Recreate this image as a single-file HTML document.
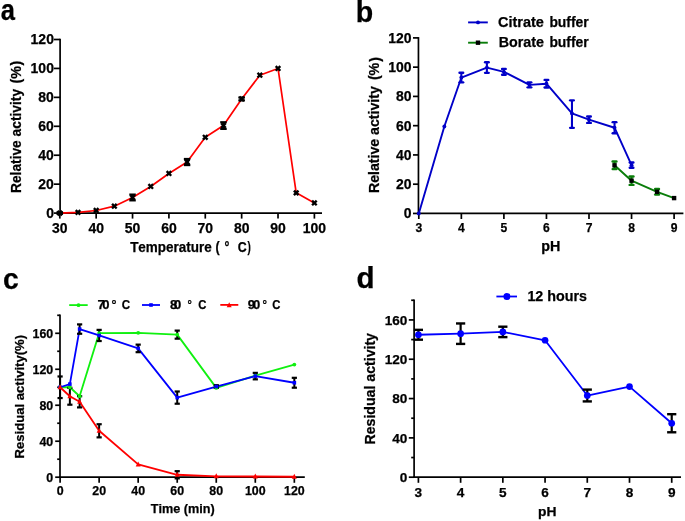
<!DOCTYPE html>
<html><head><meta charset="utf-8"><style>
html,body{margin:0;padding:0;background:#fff;}
svg{display:block;will-change:transform;}
text{font-family:"Liberation Sans", sans-serif;fill:#000;font-weight:bold;font-kerning:none;font-variant-ligatures:none;stroke:#000;stroke-width:0.25px;}
</style></head><body>
<svg width="685" height="521" viewBox="0 0 685 521">
<rect width="685" height="521" fill="#fff"/>
<text x="0.70" y="19.60" font-size="29.4" textLength="14.24" lengthAdjust="spacingAndGlyphs">a</text>
<line x1="60.10" y1="38.70" x2="60.10" y2="213.90" stroke="#000" stroke-width="1.7" stroke-linecap="butt"/>
<line x1="59.20" y1="213.10" x2="322.00" y2="213.10" stroke="#000" stroke-width="1.7" stroke-linecap="butt"/>
<line x1="53.90" y1="213.10" x2="60.10" y2="213.10" stroke="#000" stroke-width="1.7" stroke-linecap="butt"/>
<text x="53.90" y="218.05" font-size="14.1" text-anchor="end" textLength="7.76" lengthAdjust="spacingAndGlyphs">0</text>
<line x1="53.90" y1="184.17" x2="60.10" y2="184.17" stroke="#000" stroke-width="1.7" stroke-linecap="butt"/>
<text x="53.90" y="189.12" font-size="14.1" text-anchor="end" textLength="15.53" lengthAdjust="spacingAndGlyphs">20</text>
<line x1="53.90" y1="155.23" x2="60.10" y2="155.23" stroke="#000" stroke-width="1.7" stroke-linecap="butt"/>
<text x="53.90" y="160.18" font-size="14.1" text-anchor="end" textLength="15.53" lengthAdjust="spacingAndGlyphs">40</text>
<line x1="53.90" y1="126.30" x2="60.10" y2="126.30" stroke="#000" stroke-width="1.7" stroke-linecap="butt"/>
<text x="53.90" y="131.25" font-size="14.1" text-anchor="end" textLength="15.53" lengthAdjust="spacingAndGlyphs">60</text>
<line x1="53.90" y1="97.36" x2="60.10" y2="97.36" stroke="#000" stroke-width="1.7" stroke-linecap="butt"/>
<text x="53.90" y="102.31" font-size="14.1" text-anchor="end" textLength="15.53" lengthAdjust="spacingAndGlyphs">80</text>
<line x1="53.90" y1="68.43" x2="60.10" y2="68.43" stroke="#000" stroke-width="1.7" stroke-linecap="butt"/>
<text x="53.90" y="73.38" font-size="14.1" text-anchor="end" textLength="23.29" lengthAdjust="spacingAndGlyphs">100</text>
<line x1="53.90" y1="39.50" x2="60.10" y2="39.50" stroke="#000" stroke-width="1.7" stroke-linecap="butt"/>
<text x="53.90" y="44.45" font-size="14.1" text-anchor="end" textLength="23.29" lengthAdjust="spacingAndGlyphs">120</text>
<line x1="59.80" y1="213.10" x2="59.80" y2="218.60" stroke="#000" stroke-width="1.7" stroke-linecap="butt"/>
<text x="59.80" y="232.80" font-size="14.1" text-anchor="middle" textLength="15.53" lengthAdjust="spacingAndGlyphs">30</text>
<line x1="96.17" y1="213.10" x2="96.17" y2="218.60" stroke="#000" stroke-width="1.7" stroke-linecap="butt"/>
<text x="96.17" y="232.80" font-size="14.1" text-anchor="middle" textLength="15.53" lengthAdjust="spacingAndGlyphs">40</text>
<line x1="132.54" y1="213.10" x2="132.54" y2="218.60" stroke="#000" stroke-width="1.7" stroke-linecap="butt"/>
<text x="132.54" y="232.80" font-size="14.1" text-anchor="middle" textLength="15.53" lengthAdjust="spacingAndGlyphs">50</text>
<line x1="168.91" y1="213.10" x2="168.91" y2="218.60" stroke="#000" stroke-width="1.7" stroke-linecap="butt"/>
<text x="168.91" y="232.80" font-size="14.1" text-anchor="middle" textLength="15.53" lengthAdjust="spacingAndGlyphs">60</text>
<line x1="205.28" y1="213.10" x2="205.28" y2="218.60" stroke="#000" stroke-width="1.7" stroke-linecap="butt"/>
<text x="205.28" y="232.80" font-size="14.1" text-anchor="middle" textLength="15.53" lengthAdjust="spacingAndGlyphs">70</text>
<line x1="241.65" y1="213.10" x2="241.65" y2="218.60" stroke="#000" stroke-width="1.7" stroke-linecap="butt"/>
<text x="241.65" y="232.80" font-size="14.1" text-anchor="middle" textLength="15.53" lengthAdjust="spacingAndGlyphs">80</text>
<line x1="278.02" y1="213.10" x2="278.02" y2="218.60" stroke="#000" stroke-width="1.7" stroke-linecap="butt"/>
<text x="278.02" y="232.80" font-size="14.1" text-anchor="middle" textLength="15.53" lengthAdjust="spacingAndGlyphs">90</text>
<line x1="314.39" y1="213.10" x2="314.39" y2="218.60" stroke="#000" stroke-width="1.7" stroke-linecap="butt"/>
<text x="314.39" y="232.80" font-size="14.1" text-anchor="middle" textLength="23.29" lengthAdjust="spacingAndGlyphs">100</text>
<text x="130.15" y="251.80" font-size="14.4" textLength="81.61" lengthAdjust="spacingAndGlyphs">Temperature</text>
<text x="215.58" y="251.80" font-size="14.4" textLength="4.13" lengthAdjust="spacingAndGlyphs">(</text>
<text x="224.57" y="251.80" font-size="14.4" textLength="4.86" lengthAdjust="spacingAndGlyphs">&#176;</text>
<text x="237.69" y="251.80" font-size="14.4" textLength="8.95" lengthAdjust="spacingAndGlyphs">C</text>
<text x="247.59" y="251.80" font-size="14.4" textLength="3.30" lengthAdjust="spacingAndGlyphs">)</text>
<text x="21.20" y="193.02" font-size="14.3" textLength="104.10" lengthAdjust="spacingAndGlyphs" transform="rotate(-90 21.20 193.02)">Relative activity</text>
<text x="21.20" y="83.51" font-size="14.3" textLength="4.76" lengthAdjust="spacingAndGlyphs" transform="rotate(-90 21.20 83.51)">(</text>
<text x="21.20" y="78.72" font-size="14.3" textLength="12.71" lengthAdjust="spacingAndGlyphs" transform="rotate(-90 21.20 78.72)">%</text>
<text x="21.20" y="65.55" font-size="14.3" textLength="4.76" lengthAdjust="spacingAndGlyphs" transform="rotate(-90 21.20 65.55)">)</text>
<polyline points="59.80,213.10 77.98,212.38 96.17,210.50 114.35,206.16 132.54,197.48 150.72,186.48 168.91,173.46 187.09,162.03 205.28,137.29 223.46,125.57 241.65,98.96 259.83,75.23 278.02,68.43 296.20,192.85 314.39,202.97" fill="none" stroke="#ff0000" stroke-width="1.7" stroke-linejoin="round"/>
<line x1="59.80" y1="212.38" x2="59.80" y2="213.82" stroke="#000" stroke-width="2.2" stroke-linecap="butt"/>
<line x1="56.55" y1="212.38" x2="63.05" y2="212.38" stroke="#000" stroke-width="2.2" stroke-linecap="butt"/>
<line x1="56.55" y1="213.82" x2="63.05" y2="213.82" stroke="#000" stroke-width="2.2" stroke-linecap="butt"/>
<line x1="57.50" y1="210.80" x2="62.10" y2="215.40" stroke="#000" stroke-width="2.35" stroke-linecap="butt"/>
<line x1="57.50" y1="215.40" x2="62.10" y2="210.80" stroke="#000" stroke-width="2.35" stroke-linecap="butt"/>
<line x1="75.69" y1="210.08" x2="80.28" y2="214.68" stroke="#000" stroke-width="2.35" stroke-linecap="butt"/>
<line x1="75.69" y1="214.68" x2="80.28" y2="210.08" stroke="#000" stroke-width="2.35" stroke-linecap="butt"/>
<line x1="93.87" y1="208.20" x2="98.47" y2="212.80" stroke="#000" stroke-width="2.35" stroke-linecap="butt"/>
<line x1="93.87" y1="212.80" x2="98.47" y2="208.20" stroke="#000" stroke-width="2.35" stroke-linecap="butt"/>
<line x1="112.05" y1="203.86" x2="116.65" y2="208.46" stroke="#000" stroke-width="2.35" stroke-linecap="butt"/>
<line x1="112.05" y1="208.46" x2="116.65" y2="203.86" stroke="#000" stroke-width="2.35" stroke-linecap="butt"/>
<line x1="132.54" y1="194.58" x2="132.54" y2="200.37" stroke="#000" stroke-width="2.2" stroke-linecap="butt"/>
<line x1="129.29" y1="194.58" x2="135.79" y2="194.58" stroke="#000" stroke-width="2.2" stroke-linecap="butt"/>
<line x1="129.29" y1="200.37" x2="135.79" y2="200.37" stroke="#000" stroke-width="2.2" stroke-linecap="butt"/>
<line x1="130.24" y1="195.18" x2="134.84" y2="199.78" stroke="#000" stroke-width="2.35" stroke-linecap="butt"/>
<line x1="130.24" y1="199.78" x2="134.84" y2="195.18" stroke="#000" stroke-width="2.35" stroke-linecap="butt"/>
<line x1="148.42" y1="184.18" x2="153.03" y2="188.78" stroke="#000" stroke-width="2.35" stroke-linecap="butt"/>
<line x1="148.42" y1="188.78" x2="153.03" y2="184.18" stroke="#000" stroke-width="2.35" stroke-linecap="butt"/>
<line x1="166.61" y1="171.16" x2="171.21" y2="175.76" stroke="#000" stroke-width="2.35" stroke-linecap="butt"/>
<line x1="166.61" y1="175.76" x2="171.21" y2="171.16" stroke="#000" stroke-width="2.35" stroke-linecap="butt"/>
<line x1="187.09" y1="158.99" x2="187.09" y2="165.07" stroke="#000" stroke-width="2.2" stroke-linecap="butt"/>
<line x1="183.84" y1="158.99" x2="190.34" y2="158.99" stroke="#000" stroke-width="2.2" stroke-linecap="butt"/>
<line x1="183.84" y1="165.07" x2="190.34" y2="165.07" stroke="#000" stroke-width="2.2" stroke-linecap="butt"/>
<line x1="184.79" y1="159.73" x2="189.40" y2="164.33" stroke="#000" stroke-width="2.35" stroke-linecap="butt"/>
<line x1="184.79" y1="164.33" x2="189.40" y2="159.73" stroke="#000" stroke-width="2.35" stroke-linecap="butt"/>
<line x1="202.98" y1="134.99" x2="207.58" y2="139.59" stroke="#000" stroke-width="2.35" stroke-linecap="butt"/>
<line x1="202.98" y1="139.59" x2="207.58" y2="134.99" stroke="#000" stroke-width="2.35" stroke-linecap="butt"/>
<line x1="223.46" y1="122.25" x2="223.46" y2="128.90" stroke="#000" stroke-width="2.2" stroke-linecap="butt"/>
<line x1="220.21" y1="122.25" x2="226.71" y2="122.25" stroke="#000" stroke-width="2.2" stroke-linecap="butt"/>
<line x1="220.21" y1="128.90" x2="226.71" y2="128.90" stroke="#000" stroke-width="2.2" stroke-linecap="butt"/>
<line x1="221.16" y1="123.27" x2="225.76" y2="127.87" stroke="#000" stroke-width="2.35" stroke-linecap="butt"/>
<line x1="221.16" y1="127.87" x2="225.76" y2="123.27" stroke="#000" stroke-width="2.35" stroke-linecap="butt"/>
<line x1="241.65" y1="97.51" x2="241.65" y2="100.40" stroke="#000" stroke-width="2.2" stroke-linecap="butt"/>
<line x1="238.40" y1="97.51" x2="244.90" y2="97.51" stroke="#000" stroke-width="2.2" stroke-linecap="butt"/>
<line x1="238.40" y1="100.40" x2="244.90" y2="100.40" stroke="#000" stroke-width="2.2" stroke-linecap="butt"/>
<line x1="239.35" y1="96.66" x2="243.95" y2="101.26" stroke="#000" stroke-width="2.35" stroke-linecap="butt"/>
<line x1="239.35" y1="101.26" x2="243.95" y2="96.66" stroke="#000" stroke-width="2.35" stroke-linecap="butt"/>
<line x1="257.53" y1="72.93" x2="262.13" y2="77.53" stroke="#000" stroke-width="2.35" stroke-linecap="butt"/>
<line x1="257.53" y1="77.53" x2="262.13" y2="72.93" stroke="#000" stroke-width="2.35" stroke-linecap="butt"/>
<line x1="275.72" y1="66.13" x2="280.32" y2="70.73" stroke="#000" stroke-width="2.35" stroke-linecap="butt"/>
<line x1="275.72" y1="70.73" x2="280.32" y2="66.13" stroke="#000" stroke-width="2.35" stroke-linecap="butt"/>
<line x1="293.90" y1="190.55" x2="298.50" y2="195.15" stroke="#000" stroke-width="2.35" stroke-linecap="butt"/>
<line x1="293.90" y1="195.15" x2="298.50" y2="190.55" stroke="#000" stroke-width="2.35" stroke-linecap="butt"/>
<line x1="312.09" y1="200.67" x2="316.69" y2="205.27" stroke="#000" stroke-width="2.35" stroke-linecap="butt"/>
<line x1="312.09" y1="205.27" x2="316.69" y2="200.67" stroke="#000" stroke-width="2.35" stroke-linecap="butt"/>
<text x="355.72" y="21.80" font-size="29.4" textLength="17.46" lengthAdjust="spacingAndGlyphs">b</text>
<line x1="418.45" y1="37.10" x2="418.45" y2="214.20" stroke="#000" stroke-width="1.7" stroke-linecap="butt"/>
<line x1="417.60" y1="213.45" x2="683.40" y2="213.45" stroke="#000" stroke-width="1.7" stroke-linecap="butt"/>
<line x1="413.00" y1="213.45" x2="418.45" y2="213.45" stroke="#000" stroke-width="1.7" stroke-linecap="butt"/>
<text x="411.60" y="218.40" font-size="14.1" text-anchor="end" textLength="7.76" lengthAdjust="spacingAndGlyphs">0</text>
<line x1="413.00" y1="184.19" x2="418.45" y2="184.19" stroke="#000" stroke-width="1.7" stroke-linecap="butt"/>
<text x="411.60" y="189.14" font-size="14.1" text-anchor="end" textLength="15.53" lengthAdjust="spacingAndGlyphs">20</text>
<line x1="413.00" y1="154.93" x2="418.45" y2="154.93" stroke="#000" stroke-width="1.7" stroke-linecap="butt"/>
<text x="411.60" y="159.88" font-size="14.1" text-anchor="end" textLength="15.53" lengthAdjust="spacingAndGlyphs">40</text>
<line x1="413.00" y1="125.67" x2="418.45" y2="125.67" stroke="#000" stroke-width="1.7" stroke-linecap="butt"/>
<text x="411.60" y="130.62" font-size="14.1" text-anchor="end" textLength="15.53" lengthAdjust="spacingAndGlyphs">60</text>
<line x1="413.00" y1="96.41" x2="418.45" y2="96.41" stroke="#000" stroke-width="1.7" stroke-linecap="butt"/>
<text x="411.60" y="101.36" font-size="14.1" text-anchor="end" textLength="15.53" lengthAdjust="spacingAndGlyphs">80</text>
<line x1="413.00" y1="67.15" x2="418.45" y2="67.15" stroke="#000" stroke-width="1.7" stroke-linecap="butt"/>
<text x="411.60" y="72.10" font-size="14.1" text-anchor="end" textLength="23.29" lengthAdjust="spacingAndGlyphs">100</text>
<line x1="413.00" y1="37.89" x2="418.45" y2="37.89" stroke="#000" stroke-width="1.7" stroke-linecap="butt"/>
<text x="411.60" y="42.84" font-size="14.1" text-anchor="end" textLength="23.29" lengthAdjust="spacingAndGlyphs">120</text>
<line x1="418.80" y1="213.45" x2="418.80" y2="219.00" stroke="#000" stroke-width="1.7" stroke-linecap="butt"/>
<text x="418.80" y="232.30" font-size="13.2" text-anchor="middle" textLength="6.75" lengthAdjust="spacingAndGlyphs">3</text>
<line x1="461.35" y1="213.45" x2="461.35" y2="219.00" stroke="#000" stroke-width="1.7" stroke-linecap="butt"/>
<text x="461.35" y="232.30" font-size="13.2" text-anchor="middle" textLength="6.75" lengthAdjust="spacingAndGlyphs">4</text>
<line x1="503.90" y1="213.45" x2="503.90" y2="219.00" stroke="#000" stroke-width="1.7" stroke-linecap="butt"/>
<text x="503.90" y="232.30" font-size="13.2" text-anchor="middle" textLength="6.75" lengthAdjust="spacingAndGlyphs">5</text>
<line x1="546.45" y1="213.45" x2="546.45" y2="219.00" stroke="#000" stroke-width="1.7" stroke-linecap="butt"/>
<text x="546.45" y="232.30" font-size="13.2" text-anchor="middle" textLength="6.75" lengthAdjust="spacingAndGlyphs">6</text>
<line x1="589.00" y1="213.45" x2="589.00" y2="219.00" stroke="#000" stroke-width="1.7" stroke-linecap="butt"/>
<text x="589.00" y="232.30" font-size="13.2" text-anchor="middle" textLength="6.75" lengthAdjust="spacingAndGlyphs">7</text>
<line x1="631.55" y1="213.45" x2="631.55" y2="219.00" stroke="#000" stroke-width="1.7" stroke-linecap="butt"/>
<text x="631.55" y="232.30" font-size="13.2" text-anchor="middle" textLength="6.75" lengthAdjust="spacingAndGlyphs">8</text>
<line x1="674.10" y1="213.45" x2="674.10" y2="219.00" stroke="#000" stroke-width="1.7" stroke-linecap="butt"/>
<text x="674.10" y="232.30" font-size="13.2" text-anchor="middle" textLength="6.75" lengthAdjust="spacingAndGlyphs">9</text>
<text x="541.35" y="251.30" font-size="14" textLength="19.11" lengthAdjust="spacingAndGlyphs">pH</text>
<text x="379.50" y="193.05" font-size="14.3" textLength="106.92" lengthAdjust="spacingAndGlyphs" transform="rotate(-90 379.50 193.05)">Relative activity</text>
<text x="379.50" y="79.91" font-size="14.3" textLength="4.76" lengthAdjust="spacingAndGlyphs" transform="rotate(-90 379.50 79.91)">(</text>
<text x="379.50" y="75.47" font-size="14.3" textLength="12.71" lengthAdjust="spacingAndGlyphs" transform="rotate(-90 379.50 75.47)">%</text>
<text x="379.50" y="61.75" font-size="14.3" textLength="4.76" lengthAdjust="spacingAndGlyphs" transform="rotate(-90 379.50 61.75)">)</text>
<polyline points="418.80,213.45 444.33,126.55 461.35,77.54 486.88,67.59 503.90,71.83 529.43,84.85 546.45,83.68 571.98,113.38 589.00,119.67 614.53,127.72 631.55,165.17" fill="none" stroke="#0000c8" stroke-width="1.9" stroke-linejoin="round"/>
<circle cx="418.80" cy="213.45" r="1.95" fill="#0000c8"/>
<circle cx="444.33" cy="126.55" r="1.95" fill="#0000c8"/>
<line x1="461.35" y1="72.71" x2="461.35" y2="82.37" stroke="#0000c8" stroke-width="2.1" stroke-linecap="butt"/>
<line x1="459.55" y1="72.71" x2="463.15" y2="72.71" stroke="#0000c8" stroke-width="2.4" stroke-linecap="round"/>
<line x1="459.55" y1="82.37" x2="463.15" y2="82.37" stroke="#0000c8" stroke-width="2.4" stroke-linecap="round"/>
<circle cx="461.35" cy="77.54" r="1.95" fill="#0000c8"/>
<line x1="486.88" y1="62.32" x2="486.88" y2="72.86" stroke="#0000c8" stroke-width="2.1" stroke-linecap="butt"/>
<line x1="485.08" y1="62.32" x2="488.68" y2="62.32" stroke="#0000c8" stroke-width="2.4" stroke-linecap="round"/>
<line x1="485.08" y1="72.86" x2="488.68" y2="72.86" stroke="#0000c8" stroke-width="2.4" stroke-linecap="round"/>
<circle cx="486.88" cy="67.59" r="1.95" fill="#0000c8"/>
<line x1="503.90" y1="68.91" x2="503.90" y2="74.76" stroke="#0000c8" stroke-width="2.1" stroke-linecap="butt"/>
<line x1="502.10" y1="68.91" x2="505.70" y2="68.91" stroke="#0000c8" stroke-width="2.4" stroke-linecap="round"/>
<line x1="502.10" y1="74.76" x2="505.70" y2="74.76" stroke="#0000c8" stroke-width="2.4" stroke-linecap="round"/>
<circle cx="503.90" cy="71.83" r="1.95" fill="#0000c8"/>
<line x1="529.43" y1="82.37" x2="529.43" y2="87.34" stroke="#0000c8" stroke-width="2.1" stroke-linecap="butt"/>
<line x1="527.63" y1="82.37" x2="531.23" y2="82.37" stroke="#0000c8" stroke-width="2.4" stroke-linecap="round"/>
<line x1="527.63" y1="87.34" x2="531.23" y2="87.34" stroke="#0000c8" stroke-width="2.4" stroke-linecap="round"/>
<circle cx="529.43" cy="84.85" r="1.95" fill="#0000c8"/>
<line x1="546.45" y1="79.88" x2="546.45" y2="87.49" stroke="#0000c8" stroke-width="2.1" stroke-linecap="butt"/>
<line x1="544.65" y1="79.88" x2="548.25" y2="79.88" stroke="#0000c8" stroke-width="2.4" stroke-linecap="round"/>
<line x1="544.65" y1="87.49" x2="548.25" y2="87.49" stroke="#0000c8" stroke-width="2.4" stroke-linecap="round"/>
<circle cx="546.45" cy="83.68" r="1.95" fill="#0000c8"/>
<line x1="571.98" y1="100.36" x2="571.98" y2="127.86" stroke="#0000c8" stroke-width="2.1" stroke-linecap="butt"/>
<line x1="570.18" y1="100.36" x2="573.78" y2="100.36" stroke="#0000c8" stroke-width="2.4" stroke-linecap="round"/>
<line x1="570.18" y1="127.86" x2="573.78" y2="127.86" stroke="#0000c8" stroke-width="2.4" stroke-linecap="round"/>
<circle cx="571.98" cy="113.38" r="1.95" fill="#0000c8"/>
<line x1="589.00" y1="116.45" x2="589.00" y2="122.89" stroke="#0000c8" stroke-width="2.1" stroke-linecap="butt"/>
<line x1="587.20" y1="116.45" x2="590.80" y2="116.45" stroke="#0000c8" stroke-width="2.4" stroke-linecap="round"/>
<line x1="587.20" y1="122.89" x2="590.80" y2="122.89" stroke="#0000c8" stroke-width="2.4" stroke-linecap="round"/>
<circle cx="589.00" cy="119.67" r="1.95" fill="#0000c8"/>
<line x1="614.53" y1="122.16" x2="614.53" y2="133.28" stroke="#0000c8" stroke-width="2.1" stroke-linecap="butt"/>
<line x1="612.73" y1="122.16" x2="616.33" y2="122.16" stroke="#0000c8" stroke-width="2.4" stroke-linecap="round"/>
<line x1="612.73" y1="133.28" x2="616.33" y2="133.28" stroke="#0000c8" stroke-width="2.4" stroke-linecap="round"/>
<circle cx="614.53" cy="127.72" r="1.95" fill="#0000c8"/>
<line x1="631.55" y1="162.54" x2="631.55" y2="167.80" stroke="#0000c8" stroke-width="2.1" stroke-linecap="butt"/>
<line x1="629.75" y1="162.54" x2="633.35" y2="162.54" stroke="#0000c8" stroke-width="2.4" stroke-linecap="round"/>
<line x1="629.75" y1="167.80" x2="633.35" y2="167.80" stroke="#0000c8" stroke-width="2.4" stroke-linecap="round"/>
<circle cx="631.55" cy="165.17" r="1.95" fill="#0000c8"/>
<polyline points="614.53,165.32 631.55,180.68 657.08,191.80 674.10,198.09" fill="none" stroke="#0a7d0a" stroke-width="1.9" stroke-linejoin="round"/>
<line x1="614.53" y1="161.51" x2="614.53" y2="169.12" stroke="#0a7d0a" stroke-width="2.1" stroke-linecap="butt"/>
<line x1="612.63" y1="161.51" x2="616.43" y2="161.51" stroke="#0a7d0a" stroke-width="2.4" stroke-linecap="round"/>
<line x1="612.63" y1="169.12" x2="616.43" y2="169.12" stroke="#0a7d0a" stroke-width="2.4" stroke-linecap="round"/>
<rect x="612.33" y="163.12" width="4.4" height="4.4" fill="#000"/>
<line x1="631.55" y1="176.44" x2="631.55" y2="184.92" stroke="#0a7d0a" stroke-width="2.1" stroke-linecap="butt"/>
<line x1="629.65" y1="176.44" x2="633.45" y2="176.44" stroke="#0a7d0a" stroke-width="2.4" stroke-linecap="round"/>
<line x1="629.65" y1="184.92" x2="633.45" y2="184.92" stroke="#0a7d0a" stroke-width="2.4" stroke-linecap="round"/>
<rect x="629.35" y="178.48" width="4.4" height="4.4" fill="#000"/>
<line x1="657.08" y1="189.02" x2="657.08" y2="194.58" stroke="#0a7d0a" stroke-width="2.1" stroke-linecap="butt"/>
<line x1="655.18" y1="189.02" x2="658.98" y2="189.02" stroke="#0a7d0a" stroke-width="2.4" stroke-linecap="round"/>
<line x1="655.18" y1="194.58" x2="658.98" y2="194.58" stroke="#0a7d0a" stroke-width="2.4" stroke-linecap="round"/>
<rect x="654.88" y="189.60" width="4.4" height="4.4" fill="#000"/>
<rect x="671.90" y="195.89" width="4.4" height="4.4" fill="#000"/>
<line x1="468.10" y1="22.40" x2="487.80" y2="22.40" stroke="#0000c8" stroke-width="1.9" stroke-linecap="butt"/>
<circle cx="478.00" cy="22.40" r="1.95" fill="#0000c8"/>
<text x="498.01" y="27.00" font-size="14.3" textLength="45.89" lengthAdjust="spacingAndGlyphs">Citrate</text>
<text x="549.38" y="27.00" font-size="14.3" textLength="39.33" lengthAdjust="spacingAndGlyphs">buffer</text>
<line x1="468.10" y1="42.70" x2="487.80" y2="42.70" stroke="#0a7d0a" stroke-width="1.9" stroke-linecap="butt"/>
<rect x="475.80" y="40.50" width="4.4" height="4.4" fill="#000"/>
<text x="498.64" y="47.20" font-size="14.3" textLength="45.24" lengthAdjust="spacingAndGlyphs">Borate</text>
<text x="549.38" y="47.20" font-size="14.3" textLength="39.33" lengthAdjust="spacingAndGlyphs">buffer</text>
<text x="3.09" y="289.20" font-size="29.4" textLength="15.73" lengthAdjust="spacingAndGlyphs">c</text>
<line x1="60.00" y1="314.50" x2="60.00" y2="478.00" stroke="#000" stroke-width="1.7" stroke-linecap="butt"/>
<line x1="59.20" y1="477.20" x2="304.80" y2="477.20" stroke="#000" stroke-width="1.7" stroke-linecap="butt"/>
<line x1="55.20" y1="477.20" x2="60.00" y2="477.20" stroke="#000" stroke-width="1.7" stroke-linecap="butt"/>
<text x="53.20" y="481.55" font-size="12.4" text-anchor="end">0</text>
<line x1="57.20" y1="459.21" x2="60.00" y2="459.21" stroke="#000" stroke-width="1.7" stroke-linecap="butt"/>
<line x1="55.20" y1="441.22" x2="60.00" y2="441.22" stroke="#000" stroke-width="1.7" stroke-linecap="butt"/>
<text x="53.20" y="445.57" font-size="12.4" text-anchor="end">40</text>
<line x1="57.20" y1="423.24" x2="60.00" y2="423.24" stroke="#000" stroke-width="1.7" stroke-linecap="butt"/>
<line x1="55.20" y1="405.25" x2="60.00" y2="405.25" stroke="#000" stroke-width="1.7" stroke-linecap="butt"/>
<text x="53.20" y="409.60" font-size="12.4" text-anchor="end">80</text>
<line x1="57.20" y1="387.26" x2="60.00" y2="387.26" stroke="#000" stroke-width="1.7" stroke-linecap="butt"/>
<line x1="55.20" y1="369.27" x2="60.00" y2="369.27" stroke="#000" stroke-width="1.7" stroke-linecap="butt"/>
<text x="53.20" y="373.62" font-size="12.4" text-anchor="end">120</text>
<line x1="57.20" y1="351.28" x2="60.00" y2="351.28" stroke="#000" stroke-width="1.7" stroke-linecap="butt"/>
<line x1="55.20" y1="333.30" x2="60.00" y2="333.30" stroke="#000" stroke-width="1.7" stroke-linecap="butt"/>
<text x="53.20" y="337.65" font-size="12.4" text-anchor="end">160</text>
<line x1="57.20" y1="315.31" x2="60.00" y2="315.31" stroke="#000" stroke-width="1.7" stroke-linecap="butt"/>
<line x1="60.10" y1="477.20" x2="60.10" y2="482.80" stroke="#000" stroke-width="1.7" stroke-linecap="butt"/>
<text x="60.10" y="495.20" font-size="12.4" text-anchor="middle">0</text>
<line x1="99.14" y1="477.20" x2="99.14" y2="482.80" stroke="#000" stroke-width="1.7" stroke-linecap="butt"/>
<text x="99.14" y="495.20" font-size="12.4" text-anchor="middle">20</text>
<line x1="138.18" y1="477.20" x2="138.18" y2="482.80" stroke="#000" stroke-width="1.7" stroke-linecap="butt"/>
<text x="138.18" y="495.20" font-size="12.4" text-anchor="middle">40</text>
<line x1="177.22" y1="477.20" x2="177.22" y2="482.80" stroke="#000" stroke-width="1.7" stroke-linecap="butt"/>
<text x="177.22" y="495.20" font-size="12.4" text-anchor="middle">60</text>
<line x1="216.26" y1="477.20" x2="216.26" y2="482.80" stroke="#000" stroke-width="1.7" stroke-linecap="butt"/>
<text x="216.26" y="495.20" font-size="12.4" text-anchor="middle">80</text>
<line x1="255.30" y1="477.20" x2="255.30" y2="482.80" stroke="#000" stroke-width="1.7" stroke-linecap="butt"/>
<text x="255.30" y="495.20" font-size="12.4" text-anchor="middle">100</text>
<line x1="294.34" y1="477.20" x2="294.34" y2="482.80" stroke="#000" stroke-width="1.7" stroke-linecap="butt"/>
<text x="294.34" y="495.20" font-size="12.4" text-anchor="middle">120</text>
<text x="150.66" y="512.80" font-size="12.8" textLength="63.97" lengthAdjust="spacingAndGlyphs">Time (min)</text>
<text x="23.60" y="458.37" font-size="13.2" textLength="123.42" lengthAdjust="spacingAndGlyphs" transform="rotate(-90 23.60 458.37)">Residual activity(%)</text>
<polyline points="60.10,387.26 69.86,387.26 79.62,396.25 99.14,333.12 138.18,332.85 177.22,334.65 216.26,387.89 255.30,375.57 294.34,364.60" fill="none" stroke="#10f010" stroke-width="1.8" stroke-linejoin="round"/>
<polyline points="60.10,387.26 69.86,384.11 79.62,329.07 99.14,335.45 138.18,348.41 177.22,397.60 216.26,386.54 255.30,376.11 294.34,382.76" fill="none" stroke="#0000ff" stroke-width="1.8" stroke-linejoin="round"/>
<polyline points="60.10,387.26 69.86,396.25 79.62,401.83 99.14,430.79 138.18,464.43 177.22,474.77 216.26,476.30 255.30,476.48 294.34,476.75" fill="none" stroke="#ff0000" stroke-width="1.8" stroke-linejoin="round"/>
<line x1="177.22" y1="330.60" x2="177.22" y2="338.69" stroke="#000" stroke-width="2.0" stroke-linecap="butt"/>
<line x1="174.62" y1="330.60" x2="179.82" y2="330.60" stroke="#000" stroke-width="2.2" stroke-linecap="butt"/>
<line x1="174.62" y1="338.69" x2="179.82" y2="338.69" stroke="#000" stroke-width="2.2" stroke-linecap="butt"/>
<line x1="79.62" y1="324.39" x2="79.62" y2="333.75" stroke="#000" stroke-width="2.0" stroke-linecap="butt"/>
<line x1="77.02" y1="324.39" x2="82.22" y2="324.39" stroke="#000" stroke-width="2.2" stroke-linecap="butt"/>
<line x1="77.02" y1="333.75" x2="82.22" y2="333.75" stroke="#000" stroke-width="2.2" stroke-linecap="butt"/>
<line x1="99.14" y1="329.88" x2="99.14" y2="341.03" stroke="#000" stroke-width="2.0" stroke-linecap="butt"/>
<line x1="96.54" y1="329.88" x2="101.74" y2="329.88" stroke="#000" stroke-width="2.2" stroke-linecap="butt"/>
<line x1="96.54" y1="341.03" x2="101.74" y2="341.03" stroke="#000" stroke-width="2.2" stroke-linecap="butt"/>
<line x1="138.18" y1="344.63" x2="138.18" y2="352.18" stroke="#000" stroke-width="2.0" stroke-linecap="butt"/>
<line x1="135.58" y1="344.63" x2="140.78" y2="344.63" stroke="#000" stroke-width="2.2" stroke-linecap="butt"/>
<line x1="135.58" y1="352.18" x2="140.78" y2="352.18" stroke="#000" stroke-width="2.2" stroke-linecap="butt"/>
<line x1="177.22" y1="391.49" x2="177.22" y2="403.72" stroke="#000" stroke-width="2.0" stroke-linecap="butt"/>
<line x1="174.62" y1="391.49" x2="179.82" y2="391.49" stroke="#000" stroke-width="2.2" stroke-linecap="butt"/>
<line x1="174.62" y1="403.72" x2="179.82" y2="403.72" stroke="#000" stroke-width="2.2" stroke-linecap="butt"/>
<line x1="216.26" y1="385.19" x2="216.26" y2="387.89" stroke="#000" stroke-width="2.0" stroke-linecap="butt"/>
<line x1="213.66" y1="385.19" x2="218.86" y2="385.19" stroke="#000" stroke-width="2.2" stroke-linecap="butt"/>
<line x1="213.66" y1="387.89" x2="218.86" y2="387.89" stroke="#000" stroke-width="2.2" stroke-linecap="butt"/>
<line x1="255.30" y1="372.87" x2="255.30" y2="379.35" stroke="#000" stroke-width="2.0" stroke-linecap="butt"/>
<line x1="252.70" y1="372.87" x2="257.90" y2="372.87" stroke="#000" stroke-width="2.2" stroke-linecap="butt"/>
<line x1="252.70" y1="379.35" x2="257.90" y2="379.35" stroke="#000" stroke-width="2.2" stroke-linecap="butt"/>
<line x1="294.34" y1="377.82" x2="294.34" y2="387.71" stroke="#000" stroke-width="2.0" stroke-linecap="butt"/>
<line x1="291.74" y1="377.82" x2="296.94" y2="377.82" stroke="#000" stroke-width="2.2" stroke-linecap="butt"/>
<line x1="291.74" y1="387.71" x2="296.94" y2="387.71" stroke="#000" stroke-width="2.2" stroke-linecap="butt"/>
<line x1="60.10" y1="376.47" x2="60.10" y2="398.05" stroke="#000" stroke-width="2.0" stroke-linecap="butt"/>
<line x1="57.50" y1="376.47" x2="62.70" y2="376.47" stroke="#000" stroke-width="2.2" stroke-linecap="butt"/>
<line x1="57.50" y1="398.05" x2="62.70" y2="398.05" stroke="#000" stroke-width="2.2" stroke-linecap="butt"/>
<line x1="69.86" y1="387.80" x2="69.86" y2="404.71" stroke="#000" stroke-width="2.0" stroke-linecap="butt"/>
<line x1="67.26" y1="387.80" x2="72.46" y2="387.80" stroke="#000" stroke-width="2.2" stroke-linecap="butt"/>
<line x1="67.26" y1="404.71" x2="72.46" y2="404.71" stroke="#000" stroke-width="2.2" stroke-linecap="butt"/>
<line x1="79.62" y1="396.25" x2="79.62" y2="407.41" stroke="#000" stroke-width="2.0" stroke-linecap="butt"/>
<line x1="77.02" y1="396.25" x2="82.22" y2="396.25" stroke="#000" stroke-width="2.2" stroke-linecap="butt"/>
<line x1="77.02" y1="407.41" x2="82.22" y2="407.41" stroke="#000" stroke-width="2.2" stroke-linecap="butt"/>
<line x1="99.14" y1="424.23" x2="99.14" y2="437.36" stroke="#000" stroke-width="2.0" stroke-linecap="butt"/>
<line x1="96.54" y1="424.23" x2="101.74" y2="424.23" stroke="#000" stroke-width="2.2" stroke-linecap="butt"/>
<line x1="96.54" y1="437.36" x2="101.74" y2="437.36" stroke="#000" stroke-width="2.2" stroke-linecap="butt"/>
<line x1="177.22" y1="471.17" x2="177.22" y2="478.37" stroke="#000" stroke-width="2.0" stroke-linecap="butt"/>
<line x1="174.62" y1="471.17" x2="179.82" y2="471.17" stroke="#000" stroke-width="2.2" stroke-linecap="butt"/>
<line x1="174.62" y1="478.37" x2="179.82" y2="478.37" stroke="#000" stroke-width="2.2" stroke-linecap="butt"/>
<circle cx="60.10" cy="387.26" r="1.9" fill="#10f010"/>
<circle cx="69.86" cy="387.26" r="1.9" fill="#10f010"/>
<circle cx="79.62" cy="396.25" r="1.9" fill="#10f010"/>
<circle cx="99.14" cy="333.12" r="1.9" fill="#10f010"/>
<circle cx="138.18" cy="332.85" r="1.9" fill="#10f010"/>
<circle cx="177.22" cy="334.65" r="1.9" fill="#10f010"/>
<circle cx="216.26" cy="387.89" r="1.9" fill="#10f010"/>
<circle cx="255.30" cy="375.57" r="1.9" fill="#10f010"/>
<circle cx="294.34" cy="364.60" r="1.9" fill="#10f010"/>
<rect x="58.30" y="385.46" width="3.6" height="3.6" fill="#0000ff"/>
<rect x="68.06" y="382.31" width="3.6" height="3.6" fill="#0000ff"/>
<rect x="77.82" y="327.27" width="3.6" height="3.6" fill="#0000ff"/>
<rect x="97.34" y="333.65" width="3.6" height="3.6" fill="#0000ff"/>
<rect x="136.38" y="346.61" width="3.6" height="3.6" fill="#0000ff"/>
<rect x="175.42" y="395.80" width="3.6" height="3.6" fill="#0000ff"/>
<rect x="214.46" y="384.74" width="3.6" height="3.6" fill="#0000ff"/>
<rect x="253.50" y="374.31" width="3.6" height="3.6" fill="#0000ff"/>
<rect x="292.54" y="380.96" width="3.6" height="3.6" fill="#0000ff"/>
<polygon points="60.10,384.26 57.60,389.26 62.60,389.26" fill="#ff0000"/>
<polygon points="69.86,393.25 67.36,398.25 72.36,398.25" fill="#ff0000"/>
<polygon points="79.62,398.83 77.12,403.83 82.12,403.83" fill="#ff0000"/>
<polygon points="99.14,427.79 96.64,432.79 101.64,432.79" fill="#ff0000"/>
<polygon points="138.18,461.43 135.68,466.43 140.68,466.43" fill="#ff0000"/>
<polygon points="177.22,471.77 174.72,476.77 179.72,476.77" fill="#ff0000"/>
<polygon points="216.26,473.30 213.76,478.30 218.76,478.30" fill="#ff0000"/>
<polygon points="255.30,473.48 252.80,478.48 257.80,478.48" fill="#ff0000"/>
<polygon points="294.34,473.75 291.84,478.75 296.84,478.75" fill="#ff0000"/>
<line x1="69.20" y1="305.10" x2="87.70" y2="305.10" stroke="#10f010" stroke-width="1.8" stroke-linecap="butt"/>
<circle cx="78.50" cy="305.20" r="1.9" fill="#10f010"/>
<text x="97.44" y="309.10" font-size="13" letter-spacing="-2.47">70</text>
<text x="111.45" y="309.10" font-size="13" textLength="4.98" lengthAdjust="spacingAndGlyphs">&#176;</text>
<text x="121.82" y="309.10" font-size="13" textLength="8.39" lengthAdjust="spacingAndGlyphs">C</text>
<line x1="142.00" y1="305.00" x2="160.00" y2="305.00" stroke="#0000ff" stroke-width="1.8" stroke-linecap="butt"/>
<rect x="149.20" y="303.20" width="3.6" height="3.6" fill="#0000ff"/>
<text x="169.89" y="309.10" font-size="13" letter-spacing="-3.11">80</text>
<text x="187.62" y="309.10" font-size="13" textLength="4.34" lengthAdjust="spacingAndGlyphs">&#176;</text>
<text x="198.14" y="309.10" font-size="13" textLength="8.17" lengthAdjust="spacingAndGlyphs">C</text>
<line x1="220.30" y1="304.90" x2="238.30" y2="304.90" stroke="#ff0000" stroke-width="1.8" stroke-linecap="butt"/>
<polygon points="229.20,302.20 226.70,307.20 231.70,307.20" fill="#ff0000"/>
<text x="247.85" y="309.10" font-size="13" letter-spacing="-2.08">90</text>
<text x="262.61" y="309.10" font-size="13" textLength="4.47" lengthAdjust="spacingAndGlyphs">&#176;</text>
<text x="272.24" y="309.10" font-size="13" textLength="8.17" lengthAdjust="spacingAndGlyphs">C</text>
<text x="356.49" y="288.00" font-size="29.4" textLength="18.06" lengthAdjust="spacingAndGlyphs">d</text>
<line x1="414.10" y1="299.60" x2="414.10" y2="478.00" stroke="#000" stroke-width="1.7" stroke-linecap="butt"/>
<line x1="413.30" y1="477.20" x2="681.00" y2="477.20" stroke="#000" stroke-width="1.7" stroke-linecap="butt"/>
<line x1="408.80" y1="477.20" x2="414.10" y2="477.20" stroke="#000" stroke-width="1.7" stroke-linecap="butt"/>
<text x="407.40" y="481.95" font-size="13.6" text-anchor="end">0</text>
<line x1="411.20" y1="457.54" x2="414.10" y2="457.54" stroke="#000" stroke-width="1.7" stroke-linecap="butt"/>
<line x1="408.80" y1="437.88" x2="414.10" y2="437.88" stroke="#000" stroke-width="1.7" stroke-linecap="butt"/>
<text x="407.40" y="442.63" font-size="13.6" text-anchor="end">40</text>
<line x1="411.20" y1="418.22" x2="414.10" y2="418.22" stroke="#000" stroke-width="1.7" stroke-linecap="butt"/>
<line x1="408.80" y1="398.56" x2="414.10" y2="398.56" stroke="#000" stroke-width="1.7" stroke-linecap="butt"/>
<text x="407.40" y="403.31" font-size="13.6" text-anchor="end">80</text>
<line x1="411.20" y1="378.90" x2="414.10" y2="378.90" stroke="#000" stroke-width="1.7" stroke-linecap="butt"/>
<line x1="408.80" y1="359.24" x2="414.10" y2="359.24" stroke="#000" stroke-width="1.7" stroke-linecap="butt"/>
<text x="407.40" y="363.99" font-size="13.6" text-anchor="end">120</text>
<line x1="411.20" y1="339.58" x2="414.10" y2="339.58" stroke="#000" stroke-width="1.7" stroke-linecap="butt"/>
<line x1="408.80" y1="319.92" x2="414.10" y2="319.92" stroke="#000" stroke-width="1.7" stroke-linecap="butt"/>
<text x="407.40" y="324.67" font-size="13.6" text-anchor="end">160</text>
<line x1="411.20" y1="300.26" x2="414.10" y2="300.26" stroke="#000" stroke-width="1.7" stroke-linecap="butt"/>
<line x1="418.40" y1="477.20" x2="418.40" y2="482.80" stroke="#000" stroke-width="1.7" stroke-linecap="butt"/>
<text x="418.40" y="497.20" font-size="13.6" text-anchor="middle">3</text>
<line x1="460.62" y1="477.20" x2="460.62" y2="482.80" stroke="#000" stroke-width="1.7" stroke-linecap="butt"/>
<text x="460.62" y="497.20" font-size="13.6" text-anchor="middle">4</text>
<line x1="502.84" y1="477.20" x2="502.84" y2="482.80" stroke="#000" stroke-width="1.7" stroke-linecap="butt"/>
<text x="502.84" y="497.20" font-size="13.6" text-anchor="middle">5</text>
<line x1="545.06" y1="477.20" x2="545.06" y2="482.80" stroke="#000" stroke-width="1.7" stroke-linecap="butt"/>
<text x="545.06" y="497.20" font-size="13.6" text-anchor="middle">6</text>
<line x1="587.28" y1="477.20" x2="587.28" y2="482.80" stroke="#000" stroke-width="1.7" stroke-linecap="butt"/>
<text x="587.28" y="497.20" font-size="13.6" text-anchor="middle">7</text>
<line x1="629.50" y1="477.20" x2="629.50" y2="482.80" stroke="#000" stroke-width="1.7" stroke-linecap="butt"/>
<text x="629.50" y="497.20" font-size="13.6" text-anchor="middle">8</text>
<line x1="671.72" y1="477.20" x2="671.72" y2="482.80" stroke="#000" stroke-width="1.7" stroke-linecap="butt"/>
<text x="671.72" y="497.20" font-size="13.6" text-anchor="middle">9</text>
<text x="538.09" y="516.30" font-size="13.3" textLength="18.44" lengthAdjust="spacingAndGlyphs">pH</text>
<text x="374.70" y="444.44" font-size="14.5" textLength="111.42" lengthAdjust="spacingAndGlyphs" transform="rotate(-90 374.70 444.44)">Residual activity</text>
<polyline points="418.40,334.76 460.62,333.68 502.84,331.91 545.06,340.27 587.28,395.51 629.50,386.57 671.72,423.23" fill="none" stroke="#0000ff" stroke-width="1.8" stroke-linejoin="round"/>
<line x1="418.40" y1="329.85" x2="418.40" y2="339.68" stroke="#000" stroke-width="2.2" stroke-linecap="butt"/>
<line x1="413.80" y1="329.85" x2="423.00" y2="329.85" stroke="#000" stroke-width="2.4" stroke-linecap="butt"/>
<line x1="413.80" y1="339.68" x2="423.00" y2="339.68" stroke="#000" stroke-width="2.4" stroke-linecap="butt"/>
<line x1="460.62" y1="323.46" x2="460.62" y2="343.91" stroke="#000" stroke-width="2.2" stroke-linecap="butt"/>
<line x1="456.02" y1="323.46" x2="465.22" y2="323.46" stroke="#000" stroke-width="2.4" stroke-linecap="butt"/>
<line x1="456.02" y1="343.91" x2="465.22" y2="343.91" stroke="#000" stroke-width="2.4" stroke-linecap="butt"/>
<line x1="502.84" y1="326.70" x2="502.84" y2="337.12" stroke="#000" stroke-width="2.2" stroke-linecap="butt"/>
<line x1="498.24" y1="326.70" x2="507.44" y2="326.70" stroke="#000" stroke-width="2.4" stroke-linecap="butt"/>
<line x1="498.24" y1="337.12" x2="507.44" y2="337.12" stroke="#000" stroke-width="2.4" stroke-linecap="butt"/>
<line x1="587.28" y1="389.61" x2="587.28" y2="401.41" stroke="#000" stroke-width="2.2" stroke-linecap="butt"/>
<line x1="582.68" y1="389.61" x2="591.88" y2="389.61" stroke="#000" stroke-width="2.4" stroke-linecap="butt"/>
<line x1="582.68" y1="401.41" x2="591.88" y2="401.41" stroke="#000" stroke-width="2.4" stroke-linecap="butt"/>
<line x1="671.72" y1="414.19" x2="671.72" y2="432.28" stroke="#000" stroke-width="2.2" stroke-linecap="butt"/>
<line x1="667.12" y1="414.19" x2="676.32" y2="414.19" stroke="#000" stroke-width="2.4" stroke-linecap="butt"/>
<line x1="667.12" y1="432.28" x2="676.32" y2="432.28" stroke="#000" stroke-width="2.4" stroke-linecap="butt"/>
<circle cx="418.40" cy="334.76" r="3.35" fill="#0000ff"/>
<circle cx="460.62" cy="333.68" r="3.35" fill="#0000ff"/>
<circle cx="502.84" cy="331.91" r="3.35" fill="#0000ff"/>
<circle cx="545.06" cy="340.27" r="3.35" fill="#0000ff"/>
<circle cx="587.28" cy="395.51" r="3.35" fill="#0000ff"/>
<circle cx="629.50" cy="386.57" r="3.35" fill="#0000ff"/>
<circle cx="671.72" cy="423.23" r="3.35" fill="#0000ff"/>
<line x1="496.40" y1="296.50" x2="517.00" y2="296.50" stroke="#0000ff" stroke-width="1.8" stroke-linecap="butt"/>
<circle cx="506.90" cy="296.50" r="3.5" fill="#0000ff"/>
<text x="527.40" y="301.40" font-size="14.6" textLength="59.59" lengthAdjust="spacingAndGlyphs">12 hours</text>
</svg>
</body></html>
